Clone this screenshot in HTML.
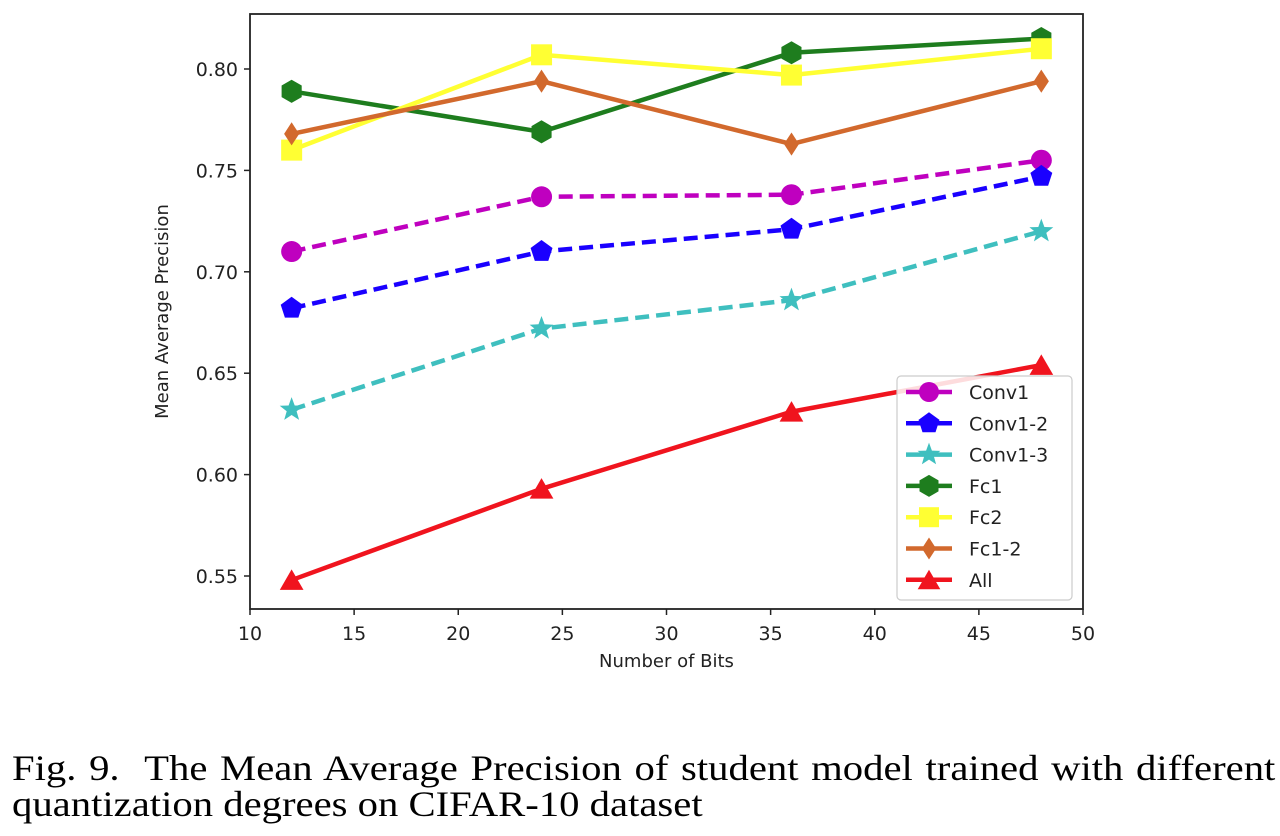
<!DOCTYPE html>
<html><head><meta charset="utf-8"><style>
body{margin:0;background:#fff;width:1280px;height:836px;overflow:hidden}
svg{position:absolute;left:0;top:0}
.cap{position:absolute;left:12px;width:1118px;font-family:"Liberation Serif",serif;font-size:36px;line-height:40px;color:#000;white-space:nowrap;transform:scaleX(1.13);transform-origin:0 0}
#cap1{top:748px;text-align:justify;text-align-last:justify}
#cap2{top:784px}
</style></head><body>
<svg id="chart" width="1280" height="740" font-family="DejaVu Sans, Liberation Sans, sans-serif"></svg>
<div class="cap" id="cap1">Fig. 9.&nbsp; The Mean Average Precision of student model trained with different</div>
<div class="cap" id="cap2">quantization degrees on CIFAR-10 dataset</div>
<script>
const bits=[12,24,36,48];
const seriesNames=["Conv1","Conv1-2","Conv1-3","Fc1","Fc2","Fc1-2","All"];
const conv1=[0.710,0.737,0.738,0.755];
const conv12=[0.682,0.710,0.721,0.747];
const conv13=[0.632,0.672,0.686,0.720];
const fc1=[0.789,0.769,0.808,0.815];
const fc2=[0.760,0.807,0.797,0.810];
const fc12=[0.768,0.794,0.763,0.794];
const all=[0.548,0.593,0.631,0.654];
const xTicks=[10,15,20,25,30,35,40,45,50];
const yTicks=[0.55,0.60,0.65,0.70,0.75,0.80];
const styles=[
 {c:"#bf00bf",dash:"14 7",m:"circle",d:conv1},
 {c:"#1a00ff",dash:"14 7",m:"pentagon",d:conv12},
 {c:"#3fbfbf",dash:"14 7",m:"star",d:conv13},
 {c:"#1e7d1e",dash:"",m:"hexagon",d:fc1},
 {c:"#ffff33",dash:"",m:"square",d:fc2},
 {c:"#d2692d",dash:"",m:"diamond",d:fc12},
 {c:"#f0141e",dash:"",m:"triangle",d:all}];
const L=250,R=1083,T=14,B=609;
const X=v=>L+(v-10)/40*(R-L);
const Y=v=>69+(0.80-v)/0.25*(576-69);
const svg=document.getElementById('chart');
const NS="http://www.w3.org/2000/svg";
function mk(t,a,p){const e=document.createElementNS(NS,t);for(const k in a)e.setAttribute(k,a[k]);(p||svg).appendChild(e);return e;}
function marker(type,x,y,c,s){
 let pts=[];
 if(type==="circle")return mk('circle',{cx:x,cy:y,r:s,fill:c});
 if(type==="square")return mk('rect',{x:x-s,y:y-s,width:2*s,height:2*s,fill:c});
 const n={pentagon:5,hexagon:6,triangle:3,diamond:4,star:10}[type];
 for(let i=0;i<n;i++){const a=-Math.PI/2+i*2*Math.PI/n;let r=s*1.1;if(type==="star")r=i%2?s*0.5:s*1.2;if(type==="triangle")r=s*1.3;let rx=r;if(type==="diamond")rx=r*0.65;pts.push((x+rx*Math.cos(a)).toFixed(1)+","+(y+r*Math.sin(a)+(type==="triangle"?3:0)).toFixed(1));}
 return mk('polygon',{points:pts.join(' '),fill:c});
}
xTicks.forEach(v=>{const g=mk('g',{});


mk('line',{x1:X(v),x2:X(v),y1:B,y2:B+6,stroke:'#222','stroke-width':1.5},g);
const t=mk('text',{x:X(v),y:B+31,'text-anchor':'middle','font-size':19,fill:'#222'},g);t.textContent=v;});
yTicks.forEach(v=>{const g=mk('g',{});


mk('line',{x1:L-6,x2:L,y1:Y(v),y2:Y(v),stroke:'#222','stroke-width':1.5},g);
const t=mk('text',{x:L-12,y:Y(v)+7,'text-anchor':'end','font-size':19,fill:'#222'},g);t.textContent=v.toFixed(2);});
const xl=mk('text',{x:(L+R)/2,y:667,'text-anchor':'middle','font-size':18,fill:'#222'});xl.textContent="Number of Bits";

const yl=mk('text',{x:0,y:0,transform:`translate(168,${(T+B)/2}) rotate(-90)`,'text-anchor':'middle','font-size':18,fill:'#222'});yl.textContent="Mean Average Precision";

styles.forEach((s,i)=>{const g=mk('g',{});


mk('polyline',{points:s.d.map((v,j)=>X(bits[j])+","+Y(v)).join(' '),fill:'none',stroke:s.c,'stroke-width':4.5,'stroke-dasharray':s.dash},g);
s.d.forEach((v,j)=>{const m=marker(s.m,X(bits[j]),Y(v),s.c,10.5);

});});
const fr=mk('rect',{x:L,y:T,width:R-L,height:B-T,fill:'none',stroke:'#222','stroke-width':1.8});

const lg=mk('g',{});


mk('rect',{x:897,y:376,width:175,height:224,rx:4,fill:'rgba(255,255,255,0.85)',stroke:'#ccc','stroke-width':1.2},lg);
styles.forEach((s,i)=>{const y=392+i*31.3;const e=mk('g',{},lg);


mk('line',{x1:906,x2:952,y1:y,y2:y,stroke:s.c,'stroke-width':4.5},e);
marker(s.m,929,y,s.c,10);
const t=mk('text',{x:969,y:y+7,'font-size':19,fill:'#222'},e);t.textContent=seriesNames[i];});
</script>
</body></html>
